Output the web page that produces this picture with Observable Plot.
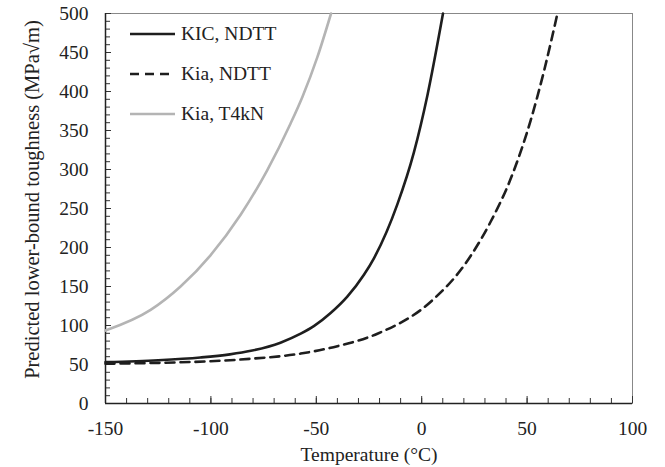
<!DOCTYPE html>
<html>
<head>
<meta charset="utf-8">
<script src="https://cdn.jsdelivr.net/npm/d3@7"></script>
<script src="https://cdn.jsdelivr.net/npm/@observablehq/plot@0.6"></script>
<style>
  body { margin: 0; background: #fff; }
  #chart { position: relative; width: 665px; height: 467px; font-family: "Liberation Serif", "Times New Roman", serif; }
  .legend { position: absolute; left: 130px; top: 14px; font-family: "Liberation Serif", "Times New Roman", serif; font-size: 19.5px; color: #222; }
  .legend .row { height: 40px; display: flex; align-items: center; }
  .legend svg { width: 45px; height: 6px; margin-right: 6px; }
</style>
</head>
<body>
<div id="chart"></div>
<script>
// Temperature (°C) and predicted lower-bound toughness (MPa√m) for each curve
const tempKIcNdtt = [-150, -125, -105, -91, -81, -67, -57.4, -51, -43.2, -35.3, -27.4, -22.6, -11.6, -3.7, 2.7, 10.1];
const kIcNdtt     = [53, 55.5, 59, 63, 67.5, 78, 89.5, 99.5, 116, 137, 165, 186.5, 255, 322, 395, 500];

const tempKiaNdtt = [-150, -125, -101.7, -81.2, -57.4, -40, -21, 4.3, 20.1, 32.7, 42.2, 51.7, 58, 64.4];
const kiaNdtt     = [51, 52.1, 54, 57.3, 64, 73.5, 89.5, 130.5, 177, 233, 288, 363, 426, 500];

const tempKiaT4kn = [-150, -128.6, -114.4, -100.2, -85.9, -73.3, -62.2, -56.6, -49.5, -43];
const kiaT4kn     = [93.5, 120, 150, 190, 242, 299, 359, 393, 444, 500];

const seriesNames = ["KIC, NDTT", "Kia, NDTT", "Kia, T4kN"];
const xTicks = [-150, -100, -50, 0, 50, 100];
const yTicks = [0, 50, 100, 150, 200, 250, 300, 350, 400, 450, 500];
const xTitle = "Temperature (°C)";
const yTitle = "Predicted lower-bound toughness (MPa√m)";

const styles = [
  {stroke: "#1e1e1e", dash: null},
  {stroke: "#1e1e1e", dash: "9,6"},
  {stroke: "#b4b4b4", dash: null}
];

const toRows = (ts, ks) => ts.map((t, i) => ({t, k: ks[i]}));
const curves = [toRows(tempKIcNdtt, kIcNdtt), toRows(tempKiaNdtt, kiaNdtt), toRows(tempKiaT4kn, kiaT4kn)];

const xMinor = d3.range(-150, 101, 10);
const yMinor = d3.range(0, 501, 10);

const lineMark = (i) => Plot.line(curves[i], {
  x: "t", y: "k", stroke: styles[i].stroke, strokeWidth: 2.6,
  strokeDasharray: styles[i].dash, curve: "monotone-x"
});

const plot = Plot.plot({
  width: 665,
  height: 467,
  marginLeft: 105,
  marginRight: 33,
  marginTop: 13,
  marginBottom: 64,
  style: {fontFamily: "'Liberation Serif', 'Times New Roman', serif", fontSize: "19.5px", color: "#222", background: "#fff"},
  x: {domain: [-150, 100]},
  y: {domain: [0, 500]},
  marks: [
    Plot.frame({stroke: "#888", strokeWidth: 1}),
    // inward tick marks
    Plot.tickX(xMinor, {x: d => d, insetTop: 385, stroke: "#333"}),
    Plot.tickX(xTicks, {x: d => d, insetTop: 383, stroke: "#333"}),
    Plot.tickY(yMinor, {y: d => d, insetRight: 522, stroke: "#333"}),
    Plot.tickY(yTicks, {y: d => d, insetRight: 521, stroke: "#333"}),
    Plot.ruleX([-150], {stroke: "#222", strokeWidth: 1.5}),
    Plot.ruleY([0], {stroke: "#222", strokeWidth: 1.5}),
    Plot.axisX({ticks: xTicks, tickSize: 0, tickPadding: 18, label: null, tickFormat: d => String(d)}),
    Plot.axisY({ticks: yTicks, tickSize: 0, tickPadding: 17, label: null, tickFormat: d => String(d)}),
    Plot.text([xTitle], {text: d => d, frameAnchor: "bottom", dy: 51, lineAnchor: "middle", textAnchor: "middle", fontSize: 19.5, fill: "#222"}),
    Plot.text([yTitle], {text: d => d, frameAnchor: "left", rotate: -90, dx: -73, dy: -9, lineAnchor: "middle", textAnchor: "middle", fontSize: 20.5, fill: "#222"}),
    lineMark(2),
    lineMark(1),
    lineMark(0)
  ]
});

const chart = document.getElementById("chart");
chart.appendChild(plot);

// Legend drawn inside the plot area, top-left
const legend = document.createElement("div");
legend.className = "legend";
seriesNames.forEach((name, i) => {
  const row = document.createElement("div");
  row.className = "row";
  const dash = styles[i].dash ? ` stroke-dasharray="${styles[i].dash}"` : "";
  row.innerHTML = `<svg viewBox="0 0 45 6"><line x1="0" y1="3" x2="45" y2="3" stroke="${styles[i].stroke}" stroke-width="2.6"${dash}/></svg><span>${name}</span>`;
  legend.appendChild(row);
});
chart.appendChild(legend);
</script>
</body>
</html>
